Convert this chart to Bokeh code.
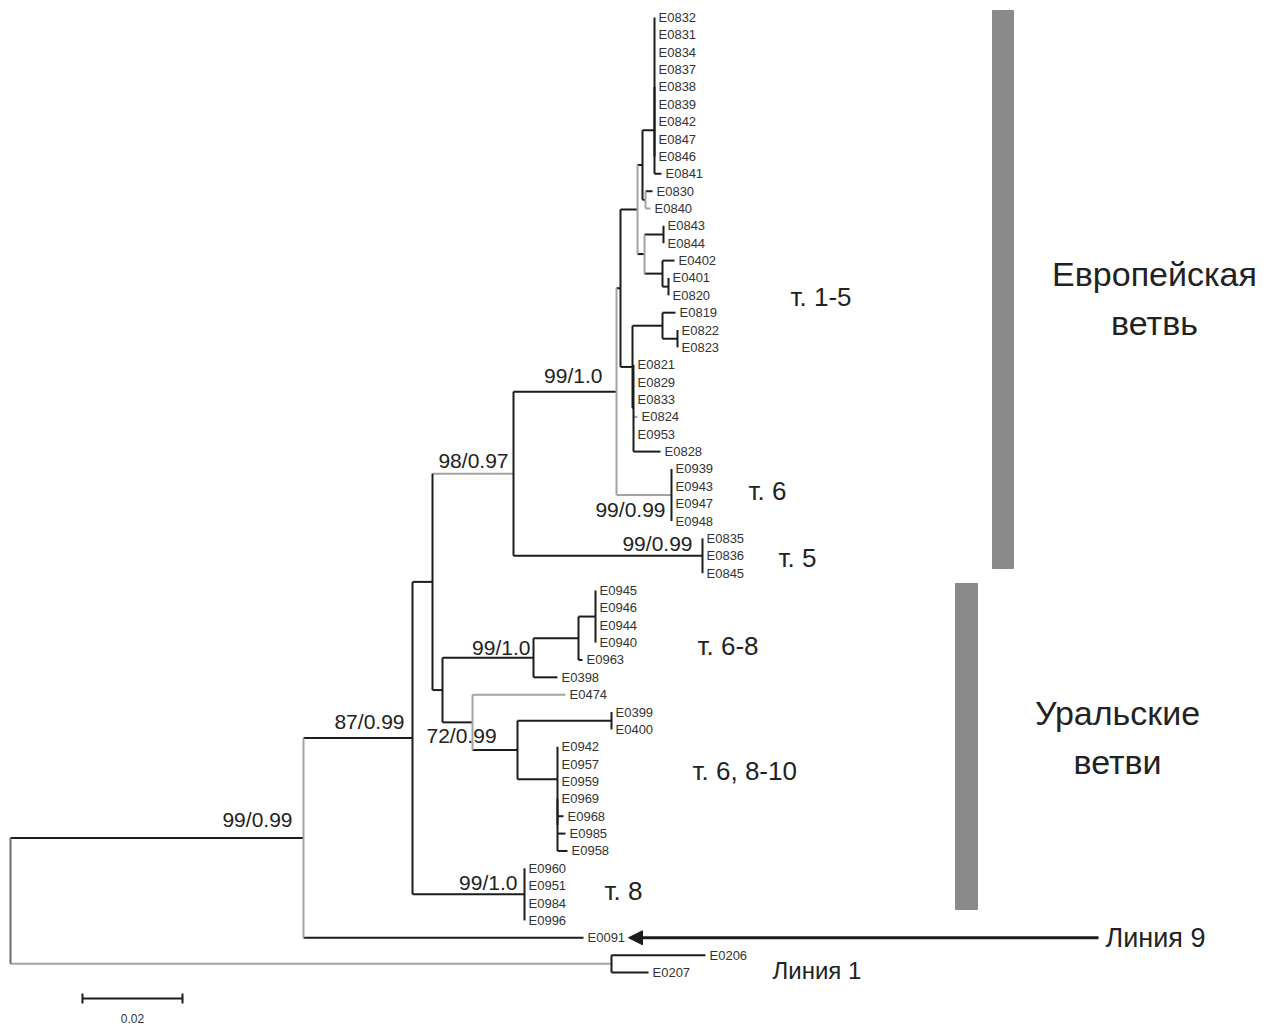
import re
from bokeh.plotting import figure
from bokeh.models import Range1d, Arrow, NormalHead
from bokeh.core.properties import value
from bokeh.embed import file_html
from bokeh.resources import INLINE

# ---------------- data ----------------
# tree topology with branch lengths (substitutions per site); internal nodes named
newick = """
(
 (
  (
   (
    (
     (
      (
       (
        (
         ((E0832:0,E0831:0,E0834:0,E0837:0,E0838:0,E0839:0,E0842:0,E0847:0,E0846:0)Q:0,E0841:0.0014)B:0.0024,
         (E0830:0.0014,E0840:0.001)D:0.0006
        )C:0.001,
        (
         (E0843:0,E0844:0)H:0.0038,
         (E0402:0.0024,(E0401:0,E0820:0)J:0.0012)I:0.0036
        )F:0.0014
       )E:0.0034,
       (
        (E0819:0.0026,(E0822:0,E0823:0)M:0.003)L:0.006,
        (E0821:0,E0829:0,E0833:0,E0824:0.0008,E0953:0,E0828:0.0054)N:0.0002
       )K:0.0024
      )G:0.0008,
      (E0939:0,E0943:0,E0947:0,E0948:0)T6:0.011
     )EU2:0.0206,
     (E0835:0,E0836:0,E0845:0)T5:0.0378
    )EU:0.0162,
    (
     (
      ((E0945:0,E0946:0,E0944:0,E0940:0)U3:0.0034,E0963:0.0008)U2:0.009,
      E0398:0.0048
     )U1:0.0182,
     (
      E0474:0.0186,
      (
       (E0399:0,E0400:0)U6:0.0188,
       (E0942:0,E0957:0,E0959:0,(E0969:0,E0968:0.0012,E0985:0.0016,E0958:0.002)R:0)U7:0.008
      )U5:0.009
     )U4:0.006
    )A4:0.002
   )A3:0.004,
   (E0960:0,E0951:0,E0984:0,E0996:0)T8:0.0224
  )A2:0.0218,
  E0091:0.056
 )A1:0.0586,
 (E0206:0.0188,E0207:0.0074)L1:0.1202
)ROOT;
"""

support_nodes = ["A1", "A2", "EU", "EU2", "T6", "T5", "U1", "U4", "T8"]
support_values = ["99/0.99", "87/0.99", "98/0.97", "99/1.0", "99/0.99", "99/0.99", "99/1.0", "72/0.99", "99/1.0"]

grey_branches = ["L1", "EU", "T6", "E0474", "E0840", "E0824"]
grey_verticals = ["A1", "EU2", "U4", "F", "E", "D"]

clade_names = ["т. 1-5", "т. 6", "т. 5", "т. 6-8", "т. 6, 8-10", "т. 8"]
group_names = ["Европейская\nветвь", "Уральские\nветви"]
lineage_names = ["Линия 9", "Линия 1"]
scale_value = 0.02

# ---------------- parse tree ----------------
def parse_newick(s):
    s = re.sub(r"\s+", "", s).rstrip(";")
    pos = 0

    def node():
        nonlocal pos
        children = []
        if s[pos] == "(":
            pos += 1
            while True:
                children.append(node())
                if s[pos] == ",":
                    pos += 1
                    continue
                if s[pos] == ")":
                    pos += 1
                    break
        m = re.match(r"[^:,()]*", s[pos:])
        name = m.group(0)
        pos += len(name)
        length = 0.0
        if pos < len(s) and s[pos] == ":":
            pos += 1
            m = re.match(r"[0-9.eE+\-]+", s[pos:])
            length = float(m.group(0))
            pos += len(m.group(0))
        return {"name": name, "len": length, "children": children}

    return node()

tree = parse_newick(newick)

leaves = []
nodes = {}

def layout(n, x0):
    n["x"] = x0 + n["len"]
    nodes[n["name"]] = n
    if not n["children"]:
        n["y"] = len(leaves)
        leaves.append(n)
    else:
        for c in n["children"]:
            layout(c, n["x"])
        n["y"] = sum(c["y"] for c in n["children"]) / len(n["children"])

tree["len"] = 0.0
layout(tree, 0.0)

# ---------------- figure geometry ----------------
W, H = 1279, 1027
PX = 5000.0                     # pixels per substitution unit
X0 = 10                         # root pixel column
TOP, STEP = 17, 955 / 55        # first leaf row and leaf spacing in pixels

def px_x(px):
    return (px - X0) / PX

def px_y(py):
    return (py - TOP) / STEP

p = figure(width=W, height=H, output_backend="svg", toolbar_location=None,
           x_range=Range1d(px_x(0), px_x(W)), y_range=Range1d(px_y(H), px_y(0)),
           min_border=0, outline_line_color=None)
p.xaxis.visible = False
p.yaxis.visible = False
p.xgrid.visible = False
p.ygrid.visible = False
p.background_fill_color = "white"
p.border_fill_color = "white"

BLACK = "#1c1c1c"
GREY = "#a3a3a3"
ROOTC = "#6a6a6a"
FONT = value("Liberation Sans")

# ---------------- branches ----------------
sx0, sx1, sy0, sy1, scol = [], [], [], [], []
for name, n in nodes.items():
    for c in n["children"]:
        sx0.append(n["x"]); sx1.append(c["x"]); sy0.append(c["y"]); sy1.append(c["y"])
        scol.append(GREY if c["name"] in grey_branches else BLACK)
    if n["children"]:
        ys = [c["y"] for c in n["children"]]
        sx0.append(n["x"]); sx1.append(n["x"]); sy0.append(min(ys)); sy1.append(max(ys))
        scol.append(ROOTC if name == "ROOT" else (GREY if name in grey_verticals else BLACK))

p.segment(x0=sx0, y0=sy0, x1=sx1, y1=sy1, line_color=scol, line_width=2)

# ---------------- leaf labels ----------------
p.text(x=[l["x"] + 4 / PX for l in leaves], y=[l["y"] for l in leaves],
       text=[l["name"] for l in leaves], text_font=FONT, text_font_size="13px",
       text_baseline="middle", text_align="left", text_color="#333333")

# ---------------- support values ----------------
support_style = {   # anchor alignment, dx / dy in pixels relative to the node
    "A1": ("right", -11, -18), "A2": ("right", -8, -17), "EU": ("right", -5, -13),
    "EU2": ("right", -14, -16), "T6": ("right", -6, 14), "T5": ("right", -10, -12),
    "U1": ("right", -3, -10), "U4": ("left", -46, 13), "T8": ("right", -7, -12),
}
for nm, txt in zip(support_nodes, support_values):
    al, dx, dy = support_style[nm]
    n = nodes[nm]
    p.text(x=[n["x"] + dx / PX], y=[n["y"] + dy / STEP], text=[txt], text_font=FONT,
           text_font_size="21px", text_align=al, text_baseline="middle", text_color="#222222")

# ---------------- clade labels ----------------
clade_pos = [(790, 296), (748, 490), (778, 557), (697, 645), (692, 770), (604, 890)]
p.text(x=[px_x(a) for a, b in clade_pos], y=[px_y(b) for a, b in clade_pos], text=clade_names,
       text_font=FONT, text_font_size="26px", text_align="left", text_baseline="middle",
       text_color="#222222")

# group bars and names
p.quad(left=[px_x(992), px_x(955)], right=[px_x(1013), px_x(977)],
       top=[px_y(10), px_y(583)], bottom=[px_y(568), px_y(909)], color="#8a8a8a")
p.text(x=[px_x(1154), px_x(1117)], y=[px_y(298), px_y(737)], text=group_names,
       text_font=FONT, text_font_size="34px", text_align="center", text_baseline="middle",
       text_color="#222222", text_line_height=1.3)

# lineage labels and arrow
e91 = nodes["E0091"]
p.add_layout(Arrow(end=NormalHead(size=14, fill_color=BLACK, line_color=BLACK),
                   x_start=px_x(1098), y_start=e91["y"], x_end=px_x(628), y_end=e91["y"],
                   line_width=3, line_color=BLACK))
p.text(x=[px_x(1105)], y=[e91["y"]], text=[lineage_names[0]],
       text_font=FONT, text_font_size="27px", text_align="left", text_baseline="middle",
       text_color="#222222")
p.text(x=[px_x(772)], y=[px_y(970)], text=[lineage_names[1]],
       text_font=FONT, text_font_size="24px", text_align="left", text_baseline="middle",
       text_color="#222222")

# scale bar
sb_y = px_y(998)
p.segment(x0=[px_x(82), px_x(82), px_x(82) + scale_value], y0=[sb_y, sb_y - 5 / STEP, sb_y - 5 / STEP],
          x1=[px_x(82) + scale_value, px_x(82), px_x(82) + scale_value], y1=[sb_y, sb_y + 5 / STEP, sb_y + 5 / STEP],
          line_color=BLACK, line_width=2)
p.text(x=[px_x(82) + scale_value / 2], y=[px_y(1018)], text=[f"{scale_value:.2f}"], text_font=FONT,
       text_font_size="12px", text_align="center", text_baseline="middle", text_color="#333333")

open("out.html", "w").write(file_html(p, INLINE))
